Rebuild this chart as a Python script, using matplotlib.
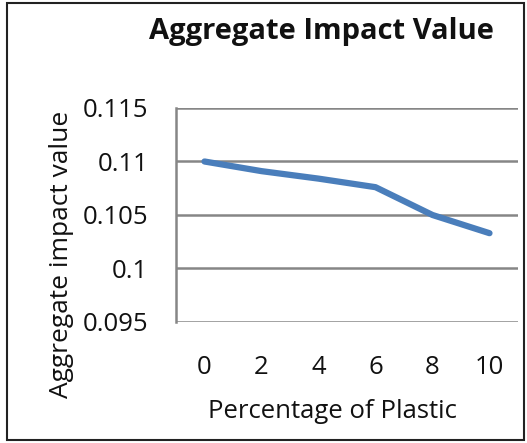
import matplotlib
matplotlib.use("Agg")
import matplotlib.pyplot as plt
from matplotlib.patches import Rectangle

categories = ["0", "2", "4", "6", "8", "10"]
values = [0.1100, 0.1091, 0.1084, 0.1076, 0.1050, 0.1033]
yticks = [0.095, 0.1, 0.105, 0.11, 0.115]
yticklabels = ["0.095", "0.1", "0.105", "0.11", "0.115"]

plt.rcParams['font.family'] = ['Open Sans', 'DejaVu Sans']

W, H = 527, 443
fig = plt.figure(figsize=(W/100, H/100), dpi=100)
fig.patches.append(Rectangle((7/W, 3/H), (524-7)/W, (440-3)/H, transform=fig.transFigure,
                             fill=False, edgecolor='#222222', linewidth=1.5))

ax = fig.add_axes([176/W, 1-322/H, (518-176)/W, (322-108)/H])
x = list(range(len(categories)))
ax.plot(x, values, color='#4A7EBB', linewidth=4.5, solid_capstyle='round', solid_joinstyle='round', zorder=3)
ax.set_xlim(-0.5, len(categories)-0.5)
ax.set_ylim(0.095, 0.115)
ax.set_yticks(yticks)
ax.set_yticklabels(yticklabels)
ax.set_xticks(x)
ax.set_xticklabels(categories)
ax.yaxis.grid(True, color='#868686', linewidth=1.8)
ax.set_axisbelow(True)
for s in ['top', 'right', 'bottom']:
    ax.spines[s].set_visible(False)
ax.spines['left'].set_color('#868686')
ax.spines['left'].set_linewidth(1.8)
ax.tick_params(axis='both', length=0, labelsize=18.5, colors='#111111')
ax.tick_params(axis='y', pad=20)
ax.tick_params(axis='x', pad=24)
fig.text(332/W, 1-411/H, "Percentage of Plastic", ha='center', va='center', fontsize=18.5, color='#111111')
fig.text(62/W, 1-254/H, "Aggregate impact value", ha='center', va='center', rotation=90,
         fontsize=19, color='#111111')
fig.text(321/W, 1-32/H, "Aggregate Impact Value", ha='center', va='center',
         fontsize=21, fontweight='bold', color='#111111')
fig.savefig("out.png", dpi=100)
